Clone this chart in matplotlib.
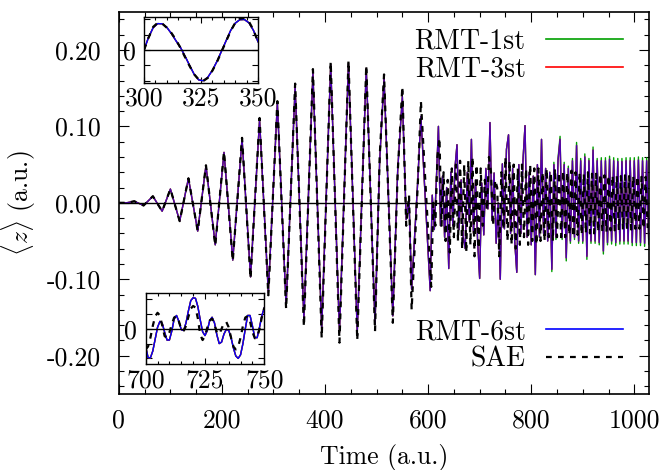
import numpy as np
import matplotlib
matplotlib.use('Agg')
import matplotlib.pyplot as plt
from matplotlib.lines import Line2D
from matplotlib.ticker import MultipleLocator, FormatStrFormatter

plt.rcParams['font.family'] = 'cmr10'
plt.rcParams['mathtext.fontset'] = 'cm'
plt.rcParams['axes.unicode_minus'] = False
plt.rcParams['font.size'] = 18.5

# --- data (extrema of the dipole signal) ---
# pulse region: times of the extrema (a.u.)
t_early = [0, 15, 30, 48, 66, 84, 100, 118, 135, 153,
           169, 187, 204, 221, 239, 255.5, 273, 290, 307.5, 324.5,
           342, 359, 376.5, 393.5, 411, 428, 445.5, 462.5, 480, 497,
           506, 514.5, 531.5, 541, 550, 557.5, 563, 568, 580, 586]
z_rmt_early = [0, 0, 0.002, -0.0035, 0.0086, -0.011, 0.018, -0.024, 0.032, -0.037,
               0.049, -0.055, 0.066, -0.075, 0.084, -0.097, 0.109, -0.118, 0.131, -0.135,
               0.152, -0.152, 0.170, -0.166, 0.181, -0.170, 0.183, -0.170, 0.176, -0.159,
               0.055, 0.163, -0.148, 0.043, 0.139, -0.022, 0.004, -0.113, 0.030, 0.113]
z_sae_early = [0, 0, 0.002, -0.0035, 0.0086, -0.011, 0.018, -0.024, 0.032, -0.037,
               0.049, -0.056, 0.067, -0.076, 0.085, -0.099, 0.111, -0.121, 0.133, -0.139,
               0.156, -0.162, 0.175, -0.177, 0.185, -0.183, 0.186, -0.180, 0.180, -0.168,
               0.060, 0.168, -0.157, 0.040, 0.152, -0.030, 0.010, -0.140, 0.025, 0.133]

# after the pulse: extrema sampled every 4 a.u.
t_rmt_late = np.arange(604, 1029, 4)
z_rmt6_late = [-0.115, 0.010, -0.035, 0.030, 0.100, -0.030, 0.035, -0.045, 0.020, -0.086,
               0.040, -0.030, 0.045, 0.076, -0.035, 0.030, -0.045, -0.060, 0.040, -0.025,
               0.083, -0.040, 0.030, -0.050, -0.099, 0.026, -0.042, 0.045, -0.008, 0.105,
               -0.023, 0.039, -0.053, 0.000, -0.100, 0.051, -0.034, 0.070, 0.089, -0.040,
               0.045, -0.050, -0.091, 0.050, -0.040, 0.055, 0.101, -0.045, 0.040, -0.055,
               0.035, -0.094, 0.050, -0.045, 0.083, -0.040, 0.045, -0.050, 0.040, -0.087,
               0.050, -0.045, 0.055, 0.083, -0.045, 0.050, -0.072, 0.045, -0.050, 0.055,
               -0.045, 0.075, -0.050, 0.055, -0.050, 0.060, -0.070, 0.055, -0.050, 0.069,
               -0.050, 0.055, -0.052, 0.055, -0.063, 0.055, -0.052, 0.057, -0.050, 0.055,
               -0.052, 0.054, -0.050, 0.054, -0.050, 0.055, -0.050, 0.055, -0.052, 0.055,
               -0.052, 0.056, -0.052, 0.055, -0.053, 0.055, -0.050]
# RMT-1st differs from RMT-6st only in the tail (t >= 840)
z_rmt1_tail = [-0.090,
               0.053, -0.048, 0.058, 0.087, -0.048, 0.053, -0.076, 0.048, -0.053, 0.058,
               -0.048, 0.079, -0.053, 0.058, -0.053, 0.064, -0.074, 0.058, -0.053, 0.073,
               -0.053, 0.058, -0.055, 0.059, -0.067, 0.059, -0.055, 0.061, -0.054, 0.059,
               -0.056, 0.058, -0.054, 0.058, -0.054, 0.059, -0.054, 0.059, -0.056, 0.059,
               -0.056, 0.060, -0.056, 0.059, -0.057, 0.059, -0.054]

t_sae_late = np.arange(606, 1027, 4)
z_sae_late = [-0.110, 0.000, -0.030, 0.060, 0.085, -0.030, 0.040, -0.050, 0.030, -0.065,
              0.045, -0.045, 0.050, -0.050, 0.055, -0.060, 0.050, -0.065, 0.055, -0.055,
              0.060, -0.070, 0.050, -0.060, 0.045, -0.030, 0.030, -0.010, 0.060, 0.040,
              -0.030, 0.030, 0.020, -0.070, 0.040, -0.035, 0.060, -0.050, 0.055, -0.055,
              0.050, -0.060, 0.045, -0.055, 0.050, -0.045, 0.045, -0.055, 0.050, -0.050,
              0.045, -0.055, 0.045, -0.050, 0.040, -0.050, 0.045, -0.045, 0.040, -0.050,
              0.045, -0.045, 0.040, -0.045, 0.042, -0.045, 0.040, -0.042, 0.042, -0.045,
              0.040, -0.042, 0.040, -0.042, 0.038, -0.040, 0.040, -0.040, 0.038, -0.040,
              0.038, -0.038, 0.038, -0.038, 0.036, -0.038, 0.036, -0.036, 0.036, -0.036,
              0.035, -0.036, 0.035, -0.035, 0.036, -0.035, 0.035, -0.035, 0.035, -0.034,
              0.035, -0.034, 0.034, -0.034, 0.034, -0.033]

# insets, read at finer resolution
t_in1 = np.arange(300, 351, 2)
z_in1_rmt = [0.000, 0.062, 0.108, 0.128, 0.127, 0.110, 0.080, 0.045, 0.012, -0.030,
             -0.075, -0.118, -0.145, -0.149, -0.132, -0.098, -0.055, -0.005, 0.045, 0.095,
             0.130, 0.147, 0.148, 0.132, 0.095, 0.040]
z_in1_sae = [0.000, 0.060, 0.112, 0.132, 0.128, 0.108, 0.083, 0.050, 0.010, -0.035,
             -0.078, -0.118, -0.143, -0.150, -0.135, -0.100, -0.058, -0.008, 0.042, 0.092,
             0.132, 0.152, 0.155, 0.138, 0.097, 0.040]

t_in2 = np.arange(700, 751, 1)
z_in2_rmt = [-0.060, -0.097, -0.098, -0.075, -0.035, 0.005, 0.025, 0.018, -0.012, -0.038,
             -0.038, -0.008, 0.033, 0.045, 0.025, -0.003, -0.006, 0.020, 0.060, 0.095,
             0.105, 0.103, 0.075, 0.030, -0.010, -0.023, -0.005, 0.028, 0.039, 0.020,
             -0.020, -0.050, -0.045, -0.018, -0.002, -0.005, -0.030, -0.065, -0.092, -0.100,
             -0.088, -0.050, 0.000, 0.045, 0.045, 0.010, -0.030, -0.030, 0.005, 0.045,
             0.071]
z_in2_sae = [-0.070, -0.060, -0.030, 0.010, 0.042, 0.054, 0.045, 0.010, -0.025, -0.030,
             -0.012, 0.015, 0.038, 0.043, 0.025, -0.002, -0.008, 0.010, 0.040, 0.068,
             0.077, 0.072, 0.035, -0.020, -0.038, -0.025, 0.005, 0.028, 0.034, 0.015,
             -0.012, -0.019, 0.000, 0.020, 0.023, 0.005, -0.030, -0.060, -0.070, -0.060,
             -0.030, 0.010, 0.038, 0.043, 0.025, -0.010, -0.032, -0.030, 0.000, 0.040,
             0.071]

# assemble the full series
t_rmt = np.concatenate([t_early, t_rmt_late])
z_rmt6 = np.array(z_rmt_early + z_rmt6_late)
z_rmt3 = z_rmt6
z_rmt1 = np.array(z_rmt_early + z_rmt6_late[:59] + z_rmt1_tail)
t_sae = np.concatenate([t_early, t_sae_late])
z_sae = np.array(z_sae_early + z_sae_late)

c_green, c_red, c_blue = '#00a000', '#ff0000', '#0000ff'
sae_dash = (2.6, 2.8)

fig = plt.figure(figsize=(6.64, 4.70), dpi=100)
ax = fig.add_axes([0.179, 0.162, 0.798, 0.813])

ax.plot(t_rmt, z_rmt1, color=c_green, lw=1.0)
ax.plot(t_rmt, z_rmt3, color=c_red, lw=1.0)
# blue drawn slightly see-through so the red below tints it purple, as in the original
ax.plot(t_rmt, z_rmt6, color=c_blue, lw=1.0, alpha=0.7)
ax.plot(t_sae, z_sae, color='black', lw=1.6, dashes=sae_dash)
ax.axhline(0, color='black', lw=1.0, zorder=5)

ax.set_xlim(0, 1028)
ax.set_ylim(-0.25, 0.25)
ax.xaxis.set_major_locator(MultipleLocator(200))
ax.xaxis.set_minor_locator(MultipleLocator(50))
ax.yaxis.set_major_locator(MultipleLocator(0.1))
ax.yaxis.set_minor_locator(MultipleLocator(0.02))
ax.yaxis.set_major_formatter(FormatStrFormatter('%.2f'))
ax.tick_params(which='both', direction='in', top=True, right=True, width=0.8)
ax.tick_params(which='major', length=7, pad=11)
ax.tick_params(axis='y', which='major', pad=13)
ax.tick_params(which='minor', length=3.5)
for s in ax.spines.values():
    s.set_linewidth(1.2)
ax.set_xlabel('Time (a.u.)', labelpad=8)
ax.set_ylabel(r'$\langle z\rangle$ (a.u.)', labelpad=6)

# legend handles
h1 = Line2D([], [], color=c_green, lw=1.2)
h3 = Line2D([], [], color=c_red, lw=1.2)
h6 = Line2D([], [], color=c_blue, lw=1.2)
hs = Line2D([], [], color='black', lw=1.6, dashes=sae_dash)
leg_kw = dict(frameon=False, markerfirst=False, handlelength=2.75, handletextpad=0.75,
              labelspacing=0.05, borderpad=0, borderaxespad=0, fontsize=20)
leg1 = ax.legend([h1, h3], ['RMT-1st', 'RMT-3st'], loc='upper right',
                 bbox_to_anchor=(0.951, 0.957), **leg_kw)
ax.add_artist(leg1)
ax.legend([h6, hs], ['RMT-6st', 'SAE'], loc='lower right',
          bbox_to_anchor=(0.951, 0.055), **leg_kw)


def draw_inset(rect, t, z_rmt, z_sae, xlim, ylim, xticks, yticks):
    ins = fig.add_axes(rect)
    ins.plot(t, z_rmt, color=c_green, lw=1.0)
    ins.plot(t, z_rmt, color=c_red, lw=1.0)
    ins.plot(t, z_rmt, color=c_blue, lw=1.0)
    ins.plot(t, z_sae, color='black', lw=1.6, dashes=sae_dash)
    ins.axhline(0, color='black', lw=1.0)
    ins.set_xlim(*xlim)
    ins.set_ylim(*ylim)
    ins.set_xticks(xticks)
    ins.set_yticks(yticks)
    ins.set_yticklabels(['0' if v == 0 else '' for v in yticks])
    ins.xaxis.set_minor_locator(MultipleLocator(5))
    ins.tick_params(which='both', direction='in', top=True, right=True, width=0.8)
    ins.tick_params(which='major', length=4, pad=3)
    ins.tick_params(axis='y', pad=6)
    ins.tick_params(which='minor', length=2.5)
    for s in ins.spines.values():
        s.set_linewidth(1.0)
    return ins


draw_inset([0.2169, 0.8234, 0.1717, 0.1404], t_in1, z_in1_rmt, z_in1_sae,
           (300, 350), (-0.16, 0.16), [300, 325, 350], [-0.15, -0.075, 0, 0.075, 0.15])
draw_inset([0.2194, 0.2249, 0.1786, 0.1511], t_in2, z_in2_rmt, z_in2_sae,
           (700, 750), (-0.12, 0.12), [700, 725, 750], [-0.1, -0.05, 0, 0.05, 0.1])

fig.savefig('out.png', dpi=100)
